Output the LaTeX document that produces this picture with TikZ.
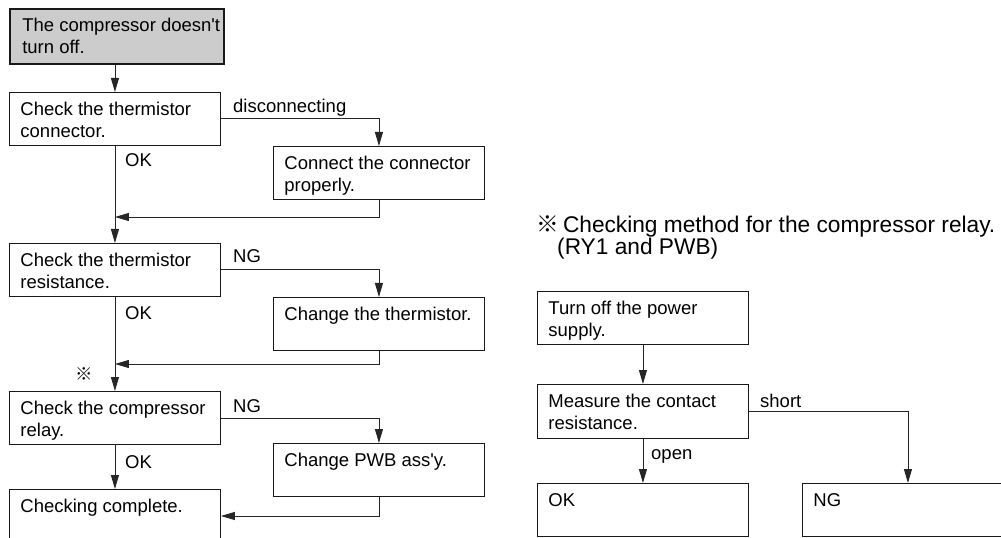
\documentclass[tikz,border=0pt]{standalone}
\usepackage{fontspec}
\setmainfont{Liberation Sans}[Ligatures=TeXOff]
\newfontfamily\cjk{Noto Sans CJK JP}
\usetikzlibrary{arrows.meta}
\newcommand{\bxt}[2][53bp]{\hspace*{11bp}\parbox[t][#1][t]{200bp}{\raggedright\rule{0pt}{23bp}#2}}
\tikzset{
  box/.style={draw=black!90, line width=0.9bp, inner sep=0pt, anchor=north west,
    minimum width=211bp, font=\fontsize{18.5bp}{22bp}\selectfont},
  arr/.style={draw=black!85, line width=0.9bp, -{Triangle[length=14bp,width=8bp]}},
  lbl/.style={inner sep=0pt, anchor=base west, font=\fontsize{18.5bp}{22bp}\selectfont},
}
\begin{document}
\begin{tikzpicture}[x=1bp,y=-1bp]
\useasboundingbox (0,0) rectangle (1001,538);
\clip (0,0) rectangle (1001,538);
% left flow
\node[box, fill=black!20, line width=1.6bp, minimum width=214bp] (start) at (9,8) {\bxt[55bp]{The compressor doesn't\\turn off.}};
\node[box] (b1) at (9,92) {\bxt{Check the thermistor\\connector.}};
\node[box] (c1) at (273,146) {\bxt{Connect the connector\\properly.}};
\node[box] (b3) at (9,243) {\bxt{Check the thermistor\\resistance.}};
\node[box] (c3) at (273,297) {\bxt{Change the thermistor.}};
\node[box] (b4) at (9,391) {\bxt{Check the compressor\\relay.}};
\node[box] (c4) at (273,443) {\bxt{Change PWB ass'y.}};
\node[box] (done) at (9,489) {\bxt{Checking complete.}};
\node[font=\cjk\fontsize{17.5bp}{20bp}\selectfont, inner sep=0pt] (mark) at (84,374) {※};
\coordinate (m1) at (b1.south |- 0,217);
\coordinate (m2) at (b1.south |- 0,364);
\coordinate (m3) at (done.east |- 0,516);
\draw[arr] (b1.north |- start.south) -- (b1.north);
\draw[arr] (b1.east) -| (c1.north);
\draw[arr] (b1.south) -- (b3.north);
\draw[arr] (c1.south) |- (m1);
\draw[arr] (b3.east) -| (c3.north);
\draw[arr] (b3.south) -- (b4.north);
\draw[arr] (c3.south) |- (m2);
\draw[arr] (b4.east) -| (c4.north);
\draw[arr] (b4.south) -- (done.north);
\draw[arr] (c4.south) |- (m3);
\node[lbl] (l1) at (233,113) {disconnecting};
\node[lbl] (l2) at (125,167) {OK};
\node[lbl] (l3) at (233,263) {NG};
\node[lbl] (l4) at (125,320) {OK};
\node[lbl] (l5) at (233,412) {NG};
\node[lbl] (l6) at (125,468) {OK};
% right flow
\node[inner sep=0pt, anchor=base west, font=\fontsize{22.7bp}{22bp}\selectfont] (title) at (536.6,233)
  {\parbox[t]{480bp}{\raggedright{\cjk ※}\hspace{3.5bp}Checking method for the compressor relay.\\\hspace*{20.4bp}(RY1 and PWB)}};
\node[box] (r1) at (537,291) {\bxt{Turn off the power\\supply.}};
\node[box, minimum height=54bp] (r2) at (537,384) {\bxt[54bp]{Measure the contact\\resistance.}};
\node[box] (r3) at (537,483) {\bxt{OK}};
\node[box] (r4) at (802,483) {\bxt{NG}};
\draw[arr] (r1.south) -- (r2.north);
\draw[arr] (r2.east) -| (r4.north);
\draw[arr] (r2.south) -- (r3.north);
\node[lbl] (l7) at (760,407) {short};
\node[lbl] (l8) at (651,459) {open};
\end{tikzpicture}
\end{document}
